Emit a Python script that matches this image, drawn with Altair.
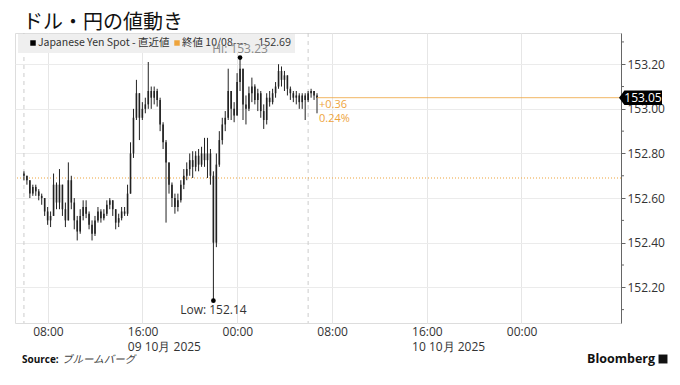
import altair as alt
import pandas as pd

# ---- data (15-minute candles, 09 Oct 06:00 -> 10 Oct 06:45) ----
first_open = 152.71
close = [152.70, 152.68, 152.62, 152.65, 152.63, 152.61, 152.60, 152.54, 152.50, 152.52,
         152.66, 152.58, 152.66, 152.55, 152.50, 152.68, 152.58, 152.50, 152.45, 152.52,
         152.56, 152.53, 152.48, 152.44, 152.50, 152.54, 152.51, 152.53, 152.57, 152.59,
         152.55, 152.49, 152.51, 152.54, 152.53, 152.62, 152.80, 152.96, 153.07, 152.96,
         153.00, 153.02, 153.08, 153.05, 153.08, 153.04, 152.93, 152.85, 152.76, 152.66,
         152.60, 152.56, 152.59, 152.66, 152.70, 152.73, 152.77, 152.74, 152.79, 152.75,
         152.80, 152.77, 152.80, 152.70, 152.40, 152.75, 152.86, 152.93, 152.96, 153.08,
         153.00, 152.97, 153.12, 153.18, 153.02, 153.00, 153.07, 153.10, 153.04, 153.07,
         152.99, 152.95, 153.05, 153.03, 153.07, 153.10, 153.17, 153.13, 153.15, 153.09,
         153.07, 153.05, 153.06, 153.03, 153.06, 153.04, 153.07, 153.08, 153.06, 153.05]
high = [152.72, 152.70, 152.68, 152.66, 152.66, 152.64, 152.62, 152.60, 152.56, 152.54,
        152.71, 152.67, 152.73, 152.66, 152.58, 152.76, 152.70, 152.60, 152.52, 152.55,
        152.59, 152.59, 152.54, 152.50, 152.52, 152.56, 152.55, 152.55, 152.59, 152.60,
        152.59, 152.55, 152.53, 152.56, 152.56, 152.66, 152.85, 153.00, 153.13, 153.07,
        153.03, 153.05, 153.21, 153.10, 153.10, 153.09, 153.05, 152.94, 152.86, 152.76,
        152.67, 152.62, 152.62, 152.68, 152.73, 152.76, 152.80, 152.81, 152.81, 152.82,
        152.83, 152.87, 152.87, 152.82, 152.72, 152.80, 152.90, 152.96, 152.99, 153.18,
        153.07, 153.03, 153.16, 153.23, 153.18, 153.06, 153.10, 153.14, 153.11, 153.09,
        153.08, 153.02, 153.07, 153.08, 153.09, 153.12, 153.20, 153.19, 153.17, 153.15,
        153.10, 153.08, 153.08, 153.07, 153.07, 153.07, 153.08, 153.09, 153.08, 153.07]
low = [152.68, 152.66, 152.60, 152.61, 152.61, 152.59, 152.57, 152.52, 152.48, 152.47,
       152.52, 152.55, 152.55, 152.52, 152.47, 152.50, 152.55, 152.46, 152.41, 152.44,
       152.50, 152.51, 152.46, 152.41, 152.43, 152.49, 152.49, 152.50, 152.52, 152.55,
       152.52, 152.46, 152.47, 152.50, 152.52, 152.52, 152.62, 152.78, 152.95, 152.86,
       152.95, 152.98, 153.00, 153.00, 153.02, 153.01, 152.90, 152.82, 152.49, 152.62,
       152.56, 152.53, 152.54, 152.58, 152.64, 152.68, 152.70, 152.69, 152.72, 152.72,
       152.74, 152.74, 152.69, 152.66, 152.14, 152.38, 152.74, 152.84, 152.90, 152.95,
       152.95, 152.94, 152.97, 153.08, 152.95, 152.93, 152.99, 153.03, 153.02, 152.99,
       152.96, 152.91, 152.93, 153.01, 153.02, 153.05, 153.09, 153.10, 153.08, 153.06,
       153.04, 153.03, 153.02, 153.00, 153.00, 152.95, 153.03, 153.05, 153.04, 152.98]

prev_close = 152.69
last_price = 153.05
change_txt = "+0.36"
change_pct = "0.24%"
hi_value, hi_idx = 153.23, 73
low_value, low_idx = 152.14, 64

y_major = [152.20, 152.40, 152.60, 152.80, 153.00, 153.20]
y_minor = [152.10, 152.30, 152.50, 152.70, 152.90, 153.10, 153.30]

# ---- frames ----
times = pd.date_range("2025-10-09 06:00", periods=len(close), freq="15min")
opens = [first_open] + close[:-1]
df = pd.DataFrame({"t": times, "open": opens, "close": close, "high": high, "low": low})
df["high"] = df[["high", "open", "close"]].max(axis=1)
df["low"] = df[["low", "open", "close"]].min(axis=1)

ORANGE = "#EEA43C"
INK = "#222222"
FONT = "Open Sans"
JFONT = "Noto Sans CJK JP"

xscale = alt.Scale(domain=[alt.DateTime(year=2025, month=10, date=9, hours=5, minutes=40),
                           alt.DateTime(year=2025, month=10, date=11, hours=8)])
yscale = alt.Scale(domain=[152.04, 153.34], zero=False, nice=False)

grid_times = [alt.DateTime(year=2025, month=10, date=d, hours=h)
              for d, h in [(9, 8), (9, 16), (10, 0), (10, 8), (10, 16), (11, 0)]]

label_expr = ("hours(datum.value) == 16 ? [timeFormat(datum.value, '%H:%M'), "
              "timeFormat(datum.value, '%d') + ' ' + (month(datum.value) + 1) + '月 ' + timeFormat(datum.value, '%Y')]"
              " : timeFormat(datum.value, '%H:%M')")

xaxis = alt.Axis(values=grid_times, labelExpr=label_expr, domain=False, ticks=False,
                 grid=True, gridColor="#e6e6e6", labelFont=FONT, labelFontSize=12,
                 labelColor="#333", labelPadding=3, labelAlign="left", labelOffset=-15,
                 labelLineHeight=15, title=None)
yaxis = alt.Axis(orient="right", values=y_major, format=".2f", grid=True, gridColor="#ebebeb",
                 domainColor="#666", tickColor="#666", tickSize=4, labelFont=FONT,
                 labelFontSize=12, labelColor="#333", labelPadding=2, title=None)

base = alt.Chart(df)
wick = base.mark_rule(color=INK, strokeWidth=1).encode(
    x=alt.X("t:T", scale=xscale, axis=xaxis),
    y=alt.Y("low:Q", scale=yscale, axis=yaxis),
    y2="high:Q")
body = base.mark_bar(color=INK, size=1.6).encode(x="t:T", y="open:Q", y2="close:Q")

# session separators (06:00)
sep_df = pd.DataFrame({"t": pd.to_datetime(["2025-10-09 06:00", "2025-10-10 06:00"])})
sep = alt.Chart(sep_df).mark_rule(color="#cccccc", strokeDash=[4, 4], strokeWidth=1).encode(x="t:T")

prev_df = pd.DataFrame({"v": [prev_close]})
prev_rule = alt.Chart(prev_df).mark_rule(color=ORANGE, strokeDash=[1, 2], strokeWidth=1.2).encode(y="v:Q")

last_df = pd.DataFrame({"t": [times[-1]], "v": [last_price], "c": [change_txt], "p": [change_pct],
                        "lbl": [f"{last_price:.2f}"]})
last_rule = alt.Chart(last_df).mark_rule(color=ORANGE, strokeWidth=1, opacity=0.8).encode(
    x="t:T", x2=alt.value(606), y="v:Q")
chg = alt.Chart(last_df).mark_text(align="left", baseline="middle", dx=2, dy=7, font=FONT,
                                   fontSize=11, color=ORANGE).encode(x="t:T", y="v:Q", text="c:N")
pct = alt.Chart(last_df).mark_text(align="left", baseline="middle", dx=2, dy=21, font=FONT,
                                   fontSize=11, color=ORANGE).encode(x="t:T", y="v:Q", text="p:N")
tag = alt.Chart(last_df).mark_point(
    shape="M-1.15,0 L-0.88,-0.36 L1,-0.36 L1,0.36 L-0.88,0.36 Z",
    size=1600, filled=True, color="#000", opacity=1).encode(x=alt.value(627), y="v:Q")
tag_txt = alt.Chart(last_df).mark_text(align="center", baseline="middle", font=FONT, fontSize=12,
                                       color="white").encode(x=alt.value(628), y="v:Q", text="lbl:N")

minor_df = pd.DataFrame({"v": y_minor})
minor = alt.Chart(minor_df).mark_rule(color="#666", strokeWidth=1).encode(
    x=alt.value(606), x2=alt.value(609), y="v:Q")

ext_df = pd.DataFrame({"t": [times[hi_idx], times[low_idx]], "v": [hi_value, low_value],
                       "lbl": [f"Hi: {hi_value:.2f}", f"Low: {low_value:.2f}"]})
ext_pts = alt.Chart(ext_df).mark_point(filled=True, size=22, color="#000", opacity=1).encode(x="t:T", y="v:Q")
hi_txt = alt.Chart(ext_df.iloc[[0]]).mark_text(baseline="bottom", dy=-2, font=FONT, fontSize=12,
                                               color="#8a8a8a").encode(x="t:T", y="v:Q", text="lbl:N")
low_txt = alt.Chart(ext_df.iloc[[1]]).mark_text(baseline="top", dy=4, font=FONT, fontSize=12,
                                                color="#333").encode(x="t:T", y="v:Q", text="lbl:N")

# legend strip
one = pd.DataFrame({"a": [0]})
leg_box = alt.Chart(one).mark_rect(color="#efefef").encode(
    x=alt.value(3), x2=alt.value(280), y=alt.value(1), y2=alt.value(20))
leg_sq1 = alt.Chart(one).mark_point(shape="square", filled=True, size=30, color="#000", opacity=1).encode(
    x=alt.value(18), y=alt.value(10))
leg_t1 = alt.Chart(one).mark_text(align="left", baseline="middle", font=JFONT, fontSize=10.5,
                                  color="#333", text="Japanese Yen Spot - 直近値").encode(
    x=alt.value(23), y=alt.value(10))
leg_sq2 = alt.Chart(one).mark_point(shape="square", filled=True, size=30, color=ORANGE, opacity=1).encode(
    x=alt.value(162), y=alt.value(10))
leg_t2 = alt.Chart(one).mark_text(align="left", baseline="middle", font=JFONT, fontSize=10.5,
                                  color="#333", text="終値 10/08").encode(x=alt.value(167), y=alt.value(10))
leg_t3 = alt.Chart(one).mark_text(align="left", baseline="middle", font=FONT, fontSize=10.5,
                                  color="#555", text="----").encode(x=alt.value(218), y=alt.value(10))
leg_t4 = alt.Chart(one).mark_text(align="right", baseline="middle", font=FONT, fontSize=10.5,
                                  color="#333", text="152.69").encode(x=alt.value(276), y=alt.value(10))

title = alt.Chart(one).mark_text(align="left", baseline="middle", font=JFONT, fontSize=20,
                                 color="#111", text="ドル・円の値動き").encode(x=alt.value(8), y=alt.value(-10))
src1 = alt.Chart(one).mark_text(align="left", baseline="middle", font=FONT, fontSize=10,
                                fontWeight="bold", color="#111", text="Source:").encode(
    x=alt.value(7), y=alt.value(327))
src2 = alt.Chart(one).mark_text(align="left", baseline="middle", font=JFONT, fontSize=10.5,
                                fontStyle="italic", color="#444", text="ブルームバーグ").encode(
    x=alt.value(47), y=alt.value(327))
bbg = alt.Chart(one).mark_text(align="right", baseline="middle", font=FONT, fontSize=12.5,
                               fontWeight="bold", color="#111", text="Bloomberg").encode(
    x=alt.value(640), y=alt.value(326))
bbg_icon = alt.Chart(one).mark_point(shape="square", filled=True, size=80, color="#111", opacity=1).encode(
    x=alt.value(648), y=alt.value(326))

chart = alt.layer(
    sep, prev_rule, wick, body, last_rule, minor, leg_box, leg_sq1, leg_t1, leg_sq2, leg_t2, leg_t3,
    leg_t4, ext_pts, hi_txt, low_txt, chg, pct, tag, tag_txt, title, src1, src2, bbg, bbg_icon
).properties(
    width=606, height=290,
    autosize=alt.AutoSizeParams(type="none"),
    padding={"left": 7, "top": 25, "right": 50, "bottom": 50},
).configure_view(stroke=None).configure(background="white")

chart.save("out.html", embed_options={"renderer": "svg", "actions": False})
